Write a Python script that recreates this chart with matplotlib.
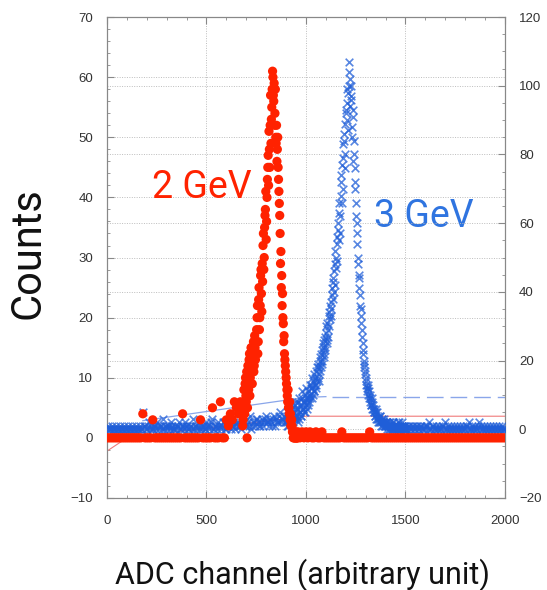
import numpy as np
import matplotlib
matplotlib.use("Agg")
import matplotlib.pyplot as plt
from matplotlib.ticker import MultipleLocator

# ---------------- data ----------------
# 2 GeV (red, left axis)
red_ch_low = np.arange(0, 680, 10)
red_low = [0, 0, 0, 0, 0, 0, 0, 0, 0, 0, 0, 0, 0, 0, 0, 0, 0, 0,
           4, 0, 0, 0, 0, 3, 0, 0, 0, 0, 0, 0, 0, 0, 0, 0, 0, 0, 0, 0,
           4, 0, 0, 0, 0, 0, 0, 0, 0, 3, 0, 0, 0, 0, 0, 5, 0, 0, 0, 6,
           0, 0, 3, 2, 4, 3, 6, 5, 4, 6]
red_ch_peak = np.arange(680, 960, 4)
red_peak = [5, 3, 8, 4, 10, 6, 0,
            12, 8, 14, 10, 15, 11, 13, 16, 12, 15, 14,
            18, 22, 16, 25, 20, 27, 24, 29,
            32, 28, 35, 38, 33, 40,
            45, 42, 48, 52, 49, 55,
            61, 57, 59, 54, 50,
            52, 48, 45, 41, 37,
            29, 25, 22, 20, 16, 14, 12, 10, 8, 6, 5, 4, 3, 2, 3, 1,
            0, 0, 1, 0, 0, 0]
red_ch_peak2 = np.arange(682, 960, 4)
red_peak2 = [2, 6, 4, 9, 7, 11, 5, 9, 13, 7, 12, 15, 9, 14, 11, 17, 13, 16, 20, 14,
             23, 18, 22, 28, 21, 26, 34, 30, 37, 41, 36, 43, 47, 51, 45, 57, 53, 58, 60, 56,
             52, 58, 49, 46, 50, 43, 39, 34, 31, 27, 24, 19, 17, 13, 11, 9, 7, 8, 5, 6,
             4, 3, 2, 1, 1, 0, 0, 1, 0, 0]
red_ch_high = np.arange(960, 2010, 10)
red_high = [1, 0, 1, 0, 1, 0, 1, 0, 0, 1, 0, 0, 1, 0, 0, 0, 0, 0, 0, 0,
            0, 0, 1, 0, 0, 0, 0, 0, 0, 0, 0, 0, 0, 0, 0, 0, 1, 0, 0, 0,
            0, 0, 0, 0, 0, 0, 0, 0, 0, 0, 0, 0, 0, 0, 0, 0, 0, 0, 0, 0,
            0, 0, 0, 0, 0, 0, 0, 0, 0, 0, 0, 0, 0, 0, 0, 0, 0, 0, 0, 0,
            0, 0, 0, 0, 0, 0, 0, 0, 0, 0, 0, 0, 0, 0, 0, 0, 0, 0, 0, 0,
            0, 0, 0, 0, 0]

# 3 GeV (blue, right axis)
blue_ch_low = np.arange(0, 900, 10)
blue_low = [0, 0, 0, 0, 0, 0, 0, 0, 0, 0, 0, 0, 0, 0, 0, 0, 0, 0,
            5, 1, 0, 2, 1, 0, 1, 2, 0, 1, 3, 1, 0, 1, 2, 0, 1, 1, 2, 0,
            1, 2, 1, 0, 1, 3, 1, 0, 2, 1, 1, 0, 2, 1, 1, 3, 0, 1, 2, 1,
            1, 2, 0, 1, 3, 1, 2, 1, 2, 1, 3, 2, 1, 2, 4, 1, 2, 3, 2, 1,
            3, 2, 4, 2, 3, 1, 4, 3, 2, 5, 3, 4]
blue_ch_low2 = np.arange(5, 900, 10)
blue_low2 = [1, 0, 1, 0, 1, 0, 1, 0, 1, 0, 1, 0, 1, 0, 1, 0, 1, 0,
             1, 0, 1, 0, 0, 1, 0, 1, 1, 0, 0, 1, 1, 0, 1, 0, 0, 1, 0, 1,
             0, 1, 0, 1, 0, 0, 1, 1, 0, 0, 1, 0, 1, 0, 2, 0, 1, 0, 1, 0,
             2, 0, 1, 2, 0, 1, 0, 2, 1, 0, 2, 1, 3, 1, 0, 2, 1, 3, 1, 2,
             1, 3, 2, 1, 2, 3, 1, 2, 4, 2, 3, 2]
blue_ch_peak = np.arange(900, 1500, 4)
blue_peak = [2, 4, 1, 3, 5, 2, 4, 6, 3, 2, 5, 7, 3, 4, 6, 8, 3, 5, 7, 4,
             9, 6, 5, 8, 10, 7, 6, 9, 11, 8, 10, 13, 9, 12, 14, 11, 15, 13, 17, 14,
             18, 16, 20, 17, 22, 19, 24, 21, 26, 23, 28, 25, 31, 29, 34, 32, 37, 35, 41, 44,
             40, 48, 52, 47, 56, 60, 55, 66, 62, 72, 77, 70, 83, 86, 80, 92, 95, 90, 98, 107,
             102, 96, 100, 88, 93, 80, 72, 76, 62, 57, 50, 45, 41, 36, 33, 29, 25, 22, 19, 17,
             15, 13, 11, 12, 9, 10, 8, 7, 8, 6, 5, 6, 4, 5, 3, 4, 3, 2, 4, 2,
             3, 1, 2, 3, 1, 2, 1, 2, 1, 0, 2, 1, 1, 0, 2, 1, 0, 1, 1, 0,
             2, 1, 0, 1, 0, 1, 2, 0, 1, 0]
blue_ch_peak2 = np.arange(902, 1500, 4)
blue_peak2 = [3, 1, 5, 2, 4, 3, 7, 2, 5, 4, 3, 6, 8, 4, 2, 6, 9, 5, 4, 7, 11, 6, 8, 5, 9,
              12, 8, 7, 10, 13, 9, 12, 15, 10, 11, 16, 13, 12, 18, 15, 19, 14, 21, 18, 23, 20, 25, 22, 27, 24,
              30, 26, 27, 33, 30, 36, 33, 39, 43, 38, 46, 42, 50, 54, 49, 58, 63, 57, 68, 74, 66, 79, 84, 76, 89,
              93, 99, 87, 104, 100, 94, 97, 85, 91, 78, 84, 70, 66, 60, 54, 48, 44, 39, 35, 31, 27, 23, 20, 18, 16,
              14, 12, 13, 10, 11, 9, 7, 9, 6, 7, 5, 4, 6, 3, 5, 2, 3, 4, 2, 1, 3, 2, 1, 2, 1,
              2, 0, 1, 1, 2, 0, 1, 0, 1, 2, 0, 1, 0, 1, 1, 0, 2, 0, 1, 0, 1, 0, 1, 0, 0]
blue_ch_high = np.arange(1500, 2010, 10)
blue_high = [1, 0, 1, 0, 1, 0, 1, 0, 1, 0, 0, 1, 2, 0, 1, 0, 0, 1, 0, 1,
             2, 0, 0, 1, 0, 0, 1, 0, 0, 1, 0, 1, 2, 0, 0, 1, 0, 2, 1, 0,
             0, 1, 0, 0, 1, 0, 0, 1, 0, 0, 0]
blue_ch_high2 = np.arange(1505, 2000, 10)
blue_high2 = [0, 1, 0, 1, 0, 1, 0, 1, 0, 1, 1, 0, 0, 1, 0, 1, 0, 0, 1, 0,
              0, 1, 0, 0, 1, 0, 0, 1, 0, 0, 1, 0, 0, 1, 0, 0, 1, 0, 0, 1,
              0, 0, 1, 0, 0, 1, 0, 0, 1, 0]

# fit curves
red_fit_x = [0, 100, 1000, 2000]
red_fit_y = [-2.2, 0.0, 3.6, 3.6]
blue_fit_x = [180, 600, 1000, 1100]
blue_fit_y = [2.5, 6.0, 9.3, 9.5]
blue_fit2_x = [1130, 2000]
blue_fit2_y = [9.5, 9.5]

red_x = np.concatenate([red_ch_low, red_ch_peak, red_ch_peak2, red_ch_high])
red_y = np.array(red_low + red_peak + red_peak2 + red_high)
blue_x = np.concatenate([blue_ch_low, blue_ch_low2, blue_ch_peak, blue_ch_peak2,
                         blue_ch_high, blue_ch_high2])
blue_y = np.array(blue_low + blue_low2 + blue_peak + blue_peak2 + blue_high + blue_high2)
assert len(red_x) == len(red_y), (len(red_x), len(red_y))
assert len(blue_x) == len(blue_y), (len(blue_x), len(blue_y))

RED = "#ff2200"
BLUE = "#1f5ed8"

plt.rcParams['font.family'] = ['Liberation Sans', 'DejaVu Sans']

fig = plt.figure(figsize=(5.47, 5.9), dpi=100)
ax = fig.add_axes([0.1956, 0.156, 0.7276, 0.815])
ax2 = ax.twinx()

ax.set_xlim(0, 2000)
ax.set_ylim(-10, 70)
ax2.set_ylim(-20, 120)

ax.xaxis.set_major_locator(MultipleLocator(500))
ax.xaxis.set_minor_locator(MultipleLocator(100))
ax.yaxis.set_major_locator(MultipleLocator(10))
ax.yaxis.set_minor_locator(MultipleLocator(2))
ax2.yaxis.set_major_locator(MultipleLocator(20))
ax2.yaxis.set_minor_locator(MultipleLocator(5))

grid_kw = dict(color="#bdbdbd", linestyle=(0, (1, 1.5)), linewidth=0.7)
ax.grid(True, which='major', **grid_kw)
ax2.grid(True, which='major', axis='y', **grid_kw)
ax2.set_axisbelow(True)

for a in (ax, ax2):
    for s in a.spines.values():
        s.set_color("#888888")
        s.set_linewidth(0.8)
ax.tick_params(which='both', direction='in', top=True, right=False,
               color="#888888", labelcolor="#333333", labelsize=9.5)
ax.tick_params(axis='x', pad=12)
ax.tick_params(axis='y', pad=10)
ax.tick_params(which='major', length=5)
ax.tick_params(which='minor', length=2.5)
ax2.tick_params(which='both', direction='in', color="#888888",
                labelcolor="#333333", labelsize=9.5, pad=10)
ax2.tick_params(which='major', length=5)
ax2.tick_params(which='minor', length=2.5)

# fit lines (under the points)
ax2.plot(red_fit_x, red_fit_y, color="#f07a7a", lw=0.8,
         transform=ax.transData, zorder=2)
ax2.plot(blue_fit_x, blue_fit_y, color="#8aa6ea", lw=0.9, zorder=2)
ax2.plot(blue_fit2_x, blue_fit2_y, color="#8aa6ea", lw=1.0,
         dashes=(12, 5), zorder=2)

# points
ax2.scatter(blue_x, blue_y, marker='x', s=30, color=BLUE, linewidths=1.2,
            alpha=0.75, zorder=3)
ax2.scatter(red_x, red_y, marker='o', s=44, color=RED, edgecolors='none',
            transform=ax.transData, zorder=4)

# labels
lab_font = ['Roboto', 'DejaVu Sans']
ax.text(226, 41.6, "2 GeV", color=RED, fontsize=27, va='center', ha='left',
        family=lab_font)
ax.text(1342, 36.9, "3 GeV", color="#2f74e0", fontsize=27, va='center', ha='left',
        family=lab_font)
fig.text(28 / 547, 1 - 253 / 590, "Counts", rotation=90, fontsize=30,
         ha='center', va='center', color="#111111", family=lab_font)
fig.text(302 / 547, 1 - 575 / 590, "ADC channel (arbitrary unit)", fontsize=22,
         ha='center', va='center', color="#111111", family=lab_font)

fig.savefig("out.png", dpi=100)
